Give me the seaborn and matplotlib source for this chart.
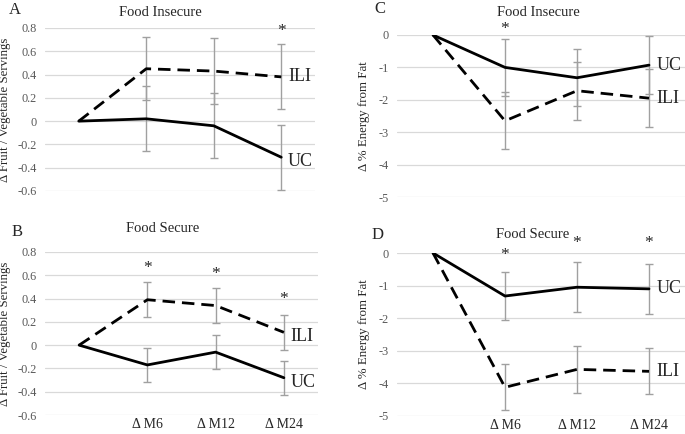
import matplotlib
matplotlib.use("Agg")
import matplotlib.pyplot as plt
import seaborn as sns
import pandas as pd

sns.set_style("white")
plt.rcParams['font.family'] = ['Liberation Serif', 'DejaVu Serif']
plt.rcParams['axes.unicode_minus'] = False

# time points (first one is baseline, unlabeled)
timepoints = ["", "\u0394 M6", "\u0394 M12", "\u0394 M24"]

# A: fruit / vegetable, food insecure
fv_insec_uc = [0, 0.02, -0.04, -0.31]
fv_insec_uc_err = [0, 0.28, 0.28, 0.28]
fv_insec_ili = [0, 0.45, 0.43, 0.38]
fv_insec_ili_err = [0, 0.27, 0.28, 0.28]
fv_insec_star_x = [3]
fv_insec_star_y = [0.77]

# B: fruit / vegetable, food secure
fv_sec_uc = [0, -0.17, -0.06, -0.28]
fv_sec_uc_err = [0, 0.145, 0.145, 0.145]
fv_sec_ili = [0, 0.39, 0.34, 0.11]
fv_sec_ili_err = [0, 0.15, 0.15, 0.15]
fv_sec_star_x = [1, 2, 3]
fv_sec_star_y = [0.66, 0.61, 0.40]

# C: % energy from fat, food insecure
fat_insec_uc = [0, -1.0, -1.32, -0.93]
fat_insec_uc_err = [0, 0.88, 0.88, 0.9]
fat_insec_ili = [0, -2.65, -1.72, -1.95]
fat_insec_ili_err = [0, 0.88, 0.9, 0.9]
fat_insec_star_x = [1]
fat_insec_star_y = [0.2]

# D: % energy from fat, food secure
fat_sec_uc = [0, -1.32, -1.05, -1.1]
fat_sec_uc_err = [0, 0.75, 0.76, 0.76]
fat_sec_ili = [0, -4.12, -3.57, -3.63]
fat_sec_ili_err = [0, 0.7, 0.71, 0.71]
fat_sec_star_x = [1, 2, 3]
fat_sec_star_y = [-0.05, 0.3, 0.3]

fv_ticks = [0.8, 0.6, 0.4, 0.2, 0, -0.2, -0.4, -0.6]
fat_ticks = [0, -1, -2, -3, -4, -5]

W, H = 685, 434


def draw_panel(ax, uc, uc_err, ili, ili_err, star_x, star_y, yticks,
               ylabel, show_x, label_off):
    x = list(range(len(timepoints)))
    df = pd.DataFrame({
        "x": x + x,
        "value": uc + ili,
        "group": ["UC"] * len(x) + ["ILI"] * len(x),
    })
    # error bars (skip baseline)
    for vals, errs in [(uc, uc_err), (ili, ili_err)]:
        ax.errorbar(x[1:], vals[1:], yerr=errs[1:], fmt="none",
                    ecolor="#a0a0a0", elinewidth=1, capsize=3, zorder=2)
    sns.lineplot(data=df, x="x", y="value", style="group",
                 dashes={"UC": "", "ILI": (4.5, 2.5)}, color="black",
                 linewidth=2, legend=False, ax=ax, zorder=3)
    for sx, sy in zip(star_x, star_y):
        ax.text(sx, sy, "*", ha="center", va="center", fontsize=12.5,
                clip_on=False)
    ax.text(3.1, ili[-1] + label_off[1], "ILI", fontsize=13, va="center",
            ha="left")
    ax.text(3.1, uc[-1] + label_off[0], "UC", fontsize=13, va="center",
            ha="left")

    ax.set_xlim(-0.5, 3.5)
    ax.set_ylim(min(yticks), max(yticks))
    ax.set_yticks(yticks)
    ax.set_yticklabels([f"{v:g}" for v in yticks], color="#595959",
                       fontsize=8.8)
    if show_x:
        ax.set_xticks(x[1:])
        ax.set_xticklabels(timepoints[1:], fontsize=10, color="#262626")
    else:
        ax.set_xticks([])
    ax.set_xlabel("")
    ax.set_ylabel(ylabel, fontsize=9.3, color="#262626")
    ax.tick_params(axis="y", length=0, pad=6)
    ax.tick_params(axis="x", length=0, pad=2)
    ax.yaxis.grid(True, color="#d9d9d9", linewidth=0.9)
    ax.set_axisbelow(True)
    for s in ax.spines.values():
        s.set_visible(False)


fig = plt.figure(figsize=(W / 100, H / 100), dpi=100)


def add_axes(x0, x1, ytop, ybot):
    return fig.add_axes([x0 / W, 1 - ybot / H, (x1 - x0) / W, (ybot - ytop) / H])


axA = add_axes(45, 315, 28, 191)
axB = add_axes(45, 318, 252, 415)
axC = add_axes(397, 685, 35, 197)
axD = add_axes(397, 685, 253, 416)

fv_label = "\u0394 Fruit / Vegetable Servings"
fat_label = "\u0394 % Energy from Fat"

draw_panel(axA, fv_insec_uc, fv_insec_uc_err, fv_insec_ili, fv_insec_ili_err,
           fv_insec_star_x, fv_insec_star_y, fv_ticks, fv_label, False,
           (-0.04, 0.0))
draw_panel(axB, fv_sec_uc, fv_sec_uc_err, fv_sec_ili, fv_sec_ili_err,
           fv_sec_star_x, fv_sec_star_y, fv_ticks, fv_label, True,
           (-0.04, -0.04))
draw_panel(axC, fat_insec_uc, fat_insec_uc_err, fat_insec_ili,
           fat_insec_ili_err, fat_insec_star_x, fat_insec_star_y, fat_ticks,
           fat_label, False, (0.0, 0.0))
draw_panel(axD, fat_sec_uc, fat_sec_uc_err, fat_sec_ili, fat_sec_ili_err,
           fat_sec_star_x, fat_sec_star_y, fat_ticks, fat_label, True,
           (0.0, 0.0))

for ax in (axA, axB):
    ax.yaxis.set_label_coords(-0.125, 0.5)
for ax in (axC, axD):
    ax.yaxis.set_label_coords(-0.095, 0.5)

# panel letters and titles
for txt, px, py, size in [("A", 15, 10, 12), ("B", 17, 232, 12),
                          ("C", 380, 9, 12), ("D", 378, 235, 12)]:
    fig.text(px / W, 1 - py / H, txt, fontsize=size, ha="center", va="center")
for txt, px, py in [("Food Insecure", 160, 12), ("Food Secure", 163, 229),
                    ("Food Insecure", 538, 12), ("Food Secure", 533, 234)]:
    fig.text(px / W, 1 - py / H, txt, fontsize=10.5, ha="center", va="center",
             color="#262626")

fig.savefig("out.png", dpi=100)
